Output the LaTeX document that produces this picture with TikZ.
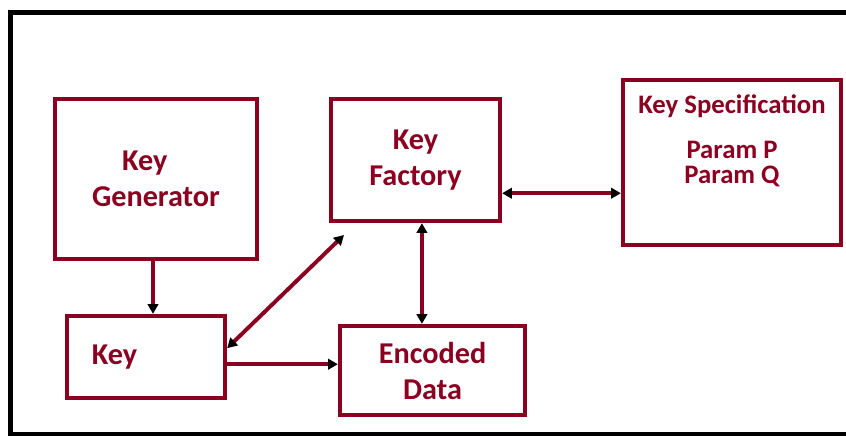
\documentclass[tikz,border=0pt]{standalone}
\usepackage{fontspec}
\setmainfont{Carlito}
\usetikzlibrary{arrows.meta,positioning}
\definecolor{boxred}{RGB}{139,0,32}
\tikzset{
  blk/.style={draw=boxred, line width=3pt, text=boxred, font=\fontsize{21.5}{25.6}\selectfont\bfseries, align=center},
  link/.style={draw=boxred, line width=2.8pt, -{Triangle[color=black,length=7pt,width=7.5pt]}},
  dlink/.style={link, {Triangle[color=black,length=7pt,width=7.5pt]}-{Triangle[color=black,length=7pt,width=7.5pt]}}
}
\begin{document}
\begin{tikzpicture}[x=0.025cm,y=-0.025cm]

\useasboundingbox (0,0) rectangle (846,436);
\clip (0,0) rectangle (846,436);
\draw[line width=3.2pt] (10.5,12.5) rectangle (880,434);

\node (gen) at (156,179)[blk, minimum width=5.05cm, minimum height=4cm, align=left]{\hspace*{0.75cm}Key\\Generator};

\node (key) at (146,357)[blk, minimum width=3.95cm, minimum height=2.05cm, text width=2.7cm, align=left]{Key};

\node (fac) at (415.5,160)[blk, minimum width=4.225cm, minimum height=3.05cm]{Key\\Factory};

\node (enc) at (432.5,370.5)[blk, minimum width=4.625cm, minimum height=2.225cm]{Encoded\\Data};

\node (spec) at (732,162.5)[blk, minimum width=5.45cm, minimum height=4.125cm]{};
\node (spectxt) [below=0.3cm of spec.north, text=boxred, font=\fontsize{19}{17.8}\selectfont\bfseries, align=center]{Key Specification\\[14.2pt]Param P\\Param Q};

% connectors
\coordinate (ftip) at (344,235);
\draw[link] ([xshift=-0.075cm]gen.south) -- ([xshift=-0.075cm]gen.south |- key.north);
\draw[dlink] ([yshift=0.22cm]key.east) -- (ftip);
\draw[link] ([yshift=-0.18cm]key.east) -- ([yshift=-0.18cm]key.east -| enc.west);
\draw[dlink] ([xshift=0.16cm]fac.south) -- ([xshift=0.16cm]fac.south |- enc.north);
\draw[dlink] ([yshift=-0.83cm]fac.east) -- ([yshift=-0.83cm]fac.east -| spec.west);

\end{tikzpicture}
\end{document}
